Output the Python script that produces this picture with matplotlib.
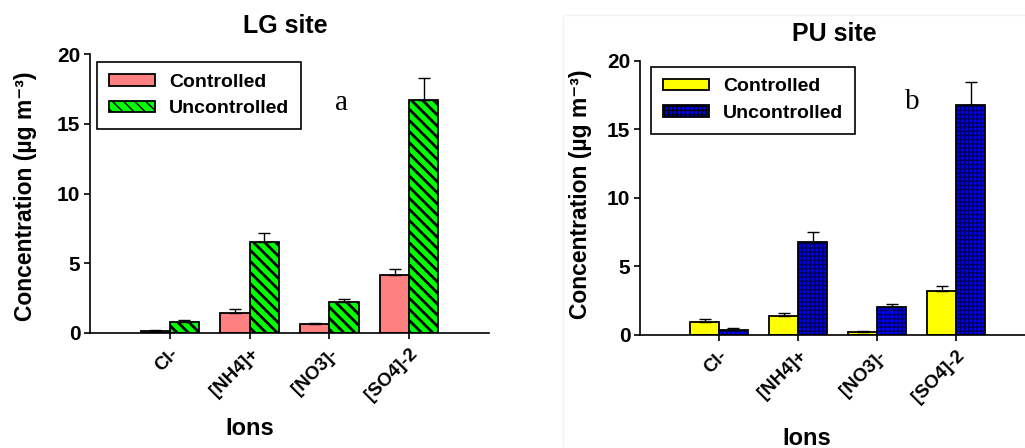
import matplotlib
matplotlib.use('Agg')
import matplotlib.pyplot as plt
from matplotlib.patches import Patch, Rectangle
import numpy as np

ions = ['Cl-', '[NH4]+', '[NO3]-', '[SO4]-2']
lg_controlled = [0.15, 1.41, 0.65, 4.16]
lg_controlled_err = [0.05, 0.29, 0.09, 0.44]
lg_uncontrolled = [0.79, 6.50, 2.22, 16.70]
lg_uncontrolled_err = [0.14, 0.70, 0.24, 1.60]
pu_controlled = [0.97, 1.38, 0.20, 3.23]
pu_controlled_err = [0.17, 0.20, 0.10, 0.37]
pu_uncontrolled = [0.36, 6.76, 2.02, 16.74]
pu_uncontrolled_err = [0.13, 0.72, 0.24, 1.72]
yticks = [0, 5, 10, 15, 20]

SANS = ['Liberation Sans', 'DejaVu Sans']
plt.rcParams['font.family'] = SANS
plt.rcParams['font.weight'] = 'bold'

W, H = 1025, 448
fig = plt.figure(figsize=(W / 100, H / 100), dpi=100)

def px(x0, y0, x1, y1):
    return [x0 / W, 1 - y1 / H, (x1 - x0) / W, (y1 - y0) / H]

x = np.arange(1, len(ions) + 1)
bw = 0.365

def make_bars(ax, vals, errs, offset, face, hatch=None, hatch_color='black', hatch_lw=1.0):
    with plt.rc_context({'hatch.linewidth': hatch_lw, 'hatch.color': hatch_color}):
        if hatch is not None:
            b = ax.bar(x + offset, vals, bw, color=face, edgecolor=hatch_color,
                       hatch=hatch, linewidth=0, zorder=2)
            for p in b:
                if hasattr(p, 'set_hatch_linewidth'):
                    p.set_hatch_linewidth(hatch_lw)
        else:
            ax.bar(x + offset, vals, bw, color=face, linewidth=0, zorder=2)
    ax.bar(x + offset, vals, bw, fill=False, edgecolor='black', linewidth=1.3, zorder=3)
    ax.errorbar(x + offset, vals, yerr=[np.zeros(len(vals)), errs], fmt='none',
                ecolor='black', elinewidth=1.0, capsize=4.5, capthick=1.0, zorder=4)

def style_axis(ax, xmax):
    ax.set_xlim(0, xmax)
    ax.set_ylim(0, 20)
    ax.set_yticks(yticks)
    ax.set_xticks(x)
    ax.set_xticklabels(ions, rotation=45, ha='right', rotation_mode='anchor',
                       fontsize=13.5, fontweight='bold')
    for lab in ax.get_yticklabels():
        lab.set_fontsize(15)
        lab.set_fontweight('bold')
    ax.spines['top'].set_visible(False)
    ax.spines['right'].set_visible(False)
    for s in ('left', 'bottom'):
        ax.spines[s].set_linewidth(1.2)
    ax.tick_params(axis='y', direction='out', length=4, width=1.2, pad=3)
    ax.tick_params(axis='x', direction='out', length=4, width=1.2, pad=5)

def legend_handle(face, hatch=None, hatch_color='black', hatch_lw=1.0):
    with plt.rc_context({'hatch.linewidth': hatch_lw, 'hatch.color': hatch_color}):
        p = Patch(facecolor=face, edgecolor='black', hatch=hatch, linewidth=1.3)
        if hatch is not None and hasattr(p, 'set_hatch_linewidth'):
            p.set_hatch_linewidth(hatch_lw)
    return p

# faint frame around right panel
fig.patches.append(Rectangle((563 / W, 0), 1, 1 - 15 / H, transform=fig.transFigure,
                             fill=False, edgecolor='#f3f3f3', linewidth=1.0))

# ---------- LG site ----------
ax1 = fig.add_axes(px(90, 54, 489, 333))
make_bars(ax1, lg_controlled, lg_controlled_err, -bw / 2, '#ff8080')
make_bars(ax1, lg_uncontrolled, lg_uncontrolled_err, bw / 2, '#00ff00',
          hatch='\\\\\\', hatch_color='black', hatch_lw=2.0)
style_axis(ax1, 5.0)
h1 = [legend_handle('#ff8080'),
      legend_handle('#00ff00', '\\\\\\', 'black', 2.0)]
leg1 = ax1.legend(h1, ['Controlled', 'Uncontrolled'], loc='upper left',
                  bbox_to_anchor=(7 / 399, 1 - 8 / 279), fancybox=False, framealpha=1,
                  edgecolor='black', prop={'size': 14, 'weight': 'bold'},
                  handlelength=2.4, handleheight=0.55, borderpad=0.6,
                  labelspacing=0.5, handletextpad=0.7, borderaxespad=0)
leg1.get_frame().set_linewidth(1.2)

fig.text(285 / W, 1 - 26 / H, 'LG site', ha='center', va='center', fontsize=18, fontweight='bold')
fig.text(342 / W, 1 - 103 / H, 'a', ha='center', va='center', fontsize=21,
         family=['Liberation Serif', 'DejaVu Serif'], fontweight='normal')
fig.text(26 / W, 1 - 196 / H, 'Concentration (µg m⁻³)', rotation=90, ha='center',
         va='center', fontsize=16.5, fontweight='bold')
fig.text(250 / W, 1 - 428 / H, 'Ions', ha='center', va='center', fontsize=17, fontweight='bold')

# ---------- PU site ----------
ax2 = fig.add_axes(px(640, 60.7, 1025, 335))
make_bars(ax2, pu_controlled, pu_controlled_err, -bw / 2, '#ffff00')
make_bars(ax2, pu_uncontrolled, pu_uncontrolled_err, bw / 2, '#0000ff',
          hatch='++++', hatch_color='#00005a', hatch_lw=1.0)
style_axis(ax2, 4.87)
h2 = [legend_handle('#ffff00'),
      legend_handle('#0000ff', '++++', '#00005a', 1.0)]
leg2 = ax2.legend(h2, ['Controlled', 'Uncontrolled'], loc='upper left',
                  bbox_to_anchor=(11 / 385, 1 - 6 / 274.3), fancybox=False, framealpha=1,
                  edgecolor='black', prop={'size': 14, 'weight': 'bold'},
                  handlelength=2.4, handleheight=0.55, borderpad=0.6,
                  labelspacing=0.5, handletextpad=0.7, borderaxespad=0)
leg2.get_frame().set_linewidth(1.2)

fig.text(834 / W, 1 - 34 / H, 'PU site', ha='center', va='center', fontsize=18, fontweight='bold')
fig.text(912 / W, 1 - 102 / H, 'b', ha='center', va='center', fontsize=21,
         family=['Liberation Serif', 'DejaVu Serif'], fontweight='normal')
fig.text(580 / W, 1 - 194 / H, 'Concentration (µg m⁻³)', rotation=90, ha='center',
         va='center', fontsize=16.5, fontweight='bold')
fig.text(807 / W, 1 - 438 / H, 'Ions', ha='center', va='center', fontsize=17, fontweight='bold')

fig.savefig('out.png', dpi=100)
